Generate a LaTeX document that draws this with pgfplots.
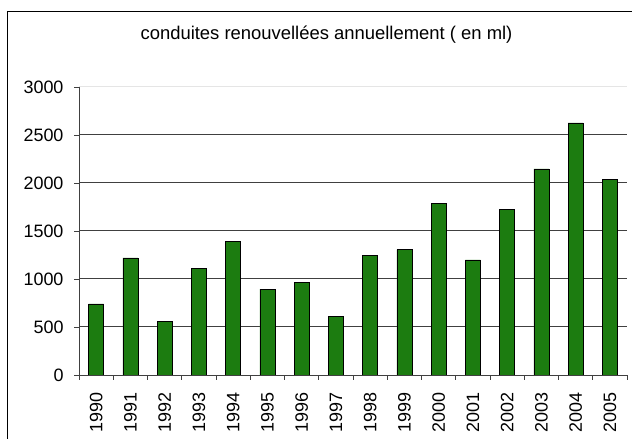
\documentclass[border=0pt]{standalone}
\usepackage{pgfplots}
\pgfplotsset{compat=1.18}
\usepackage{fontspec}
\setmainfont{Liberation Sans}
\definecolor{bargreen}{RGB}{28,124,16}
\pgfplotstableread{
x year val
0 1990 740
1 1991 1220
2 1992 555
3 1993 1110
4 1994 1395
5 1995 895
6 1996 960
7 1997 610
8 1998 1243
9 1999 1306
10 2000 1788
11 2001 1198
12 2002 1722
13 2003 2146
14 2004 2625
15 2005 2038
}\datatable
\begin{document}
\begin{tikzpicture}
\useasboundingbox (0,0) rectangle (632bp,439bp);
\draw[black, line width=1bp] (7.5bp,-5bp) -- (7.5bp,427.5bp) -- (640bp,427.5bp);
\node[font=\fontsize{18.5}{21}\selectfont] at (326.5bp,404bp) {conduites renouvellées annuellement ( en ml)};
\begin{axis}[
  at={(79bp,64bp)}, anchor=south west,
  scale only axis, width=548bp, height=288bp,
  xmin=-0.5, xmax=15.5, ymin=0, ymax=3000,
  axis x line=bottom, axis y line=left,
  axis line style={-, black!75, line width=0.8bp},
  xtick=data,
  xticklabels={1990,1991,1992,1993,1994,1995,1996,1997,1998,1999,2000,2001,2002,2003,2004,2005},
  major x tick style={draw=none},
  minor xtick={-0.5,0.5,...,15.5},
  minor x tick style={black!75, line width=0.8bp},
  minor tick length=5bp,
  xticklabel style={rotate=90, anchor=east, font=\fontsize{18}{20}\selectfont},
  xticklabel shift=9bp,
  ytick={0,500,...,2500},
  extra y ticks={3000},
  extra y tick style={grid style={black!10, line width=1bp}},
  yticklabel style={font=\fontsize{18}{20}\selectfont},
  yticklabel shift=7bp,
  major y tick style={black!75, line width=0.8bp},
  major tick length=5bp,
  tick align=outside,
  ymajorgrids,
  grid style={black!75, line width=1bp},
  /pgf/number format/assume math mode=true,
  yticklabel={\pgfmathprintnumber[fixed,1000 sep={}]{\tick}},
]
\addplot[ybar, bar width=15bp, fill=bargreen, draw=black, line width=0.7bp] table[x=x, y=val] {\datatable};
\end{axis}
\end{tikzpicture}
\end{document}
